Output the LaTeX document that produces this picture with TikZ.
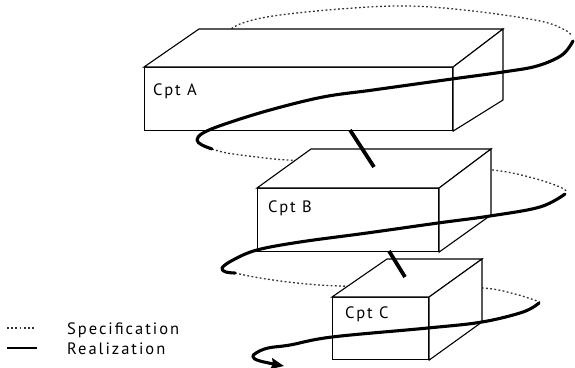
\documentclass[tikz,border=0pt]{standalone}
\usepackage{fontspec}
\setmainfont{PT Sans}
\newfontfamily\labfont[LetterSpace=12]{PT Sans}
\usetikzlibrary{arrows.meta}
\begin{document}
\begin{tikzpicture}[x=1pt,y=-1pt,
  face/.style={line width=1.1pt, line join=miter, fill=white, draw=black},
  spec/.style={line width=1.3pt, black!80, dash pattern=on 1.8pt off 2.4pt},
  real/.style={line width=3.1pt, line cap=round, line join=round},
  link/.style={line width=3.8pt},
  lab/.style={font=\labfont\fontsize{16.5}{19}\selectfont, inner sep=0pt, anchor=base west}]
\useasboundingbox (0,0) rectangle (575,367);

% specification (back halves, hidden by boxes)
\draw[spec] plot[smooth,tension=0.6] coordinates {(225,34) (240,24) (273,16) (340,9) (407,6) (473,11) (540,21) (565,30) (571,35)};
\draw[spec] plot[smooth,tension=0.6] coordinates {(212,149) (227,153) (257,157) (287,160) (350,163) (420,165) (493,170) (533,178) (560,187) (567,192)};
\draw[spec] plot[smooth,tension=0.6] coordinates {(235,273) (260,278) (297,283) (340,286) (420,287) (483,288) (515,294) (540,302)};

% boxes
\node[face, minimum width=308pt, minimum height=63pt, inner sep=0pt, anchor=north west] (boxA) at (144,67) {};
\draw[face] (boxA.north west) -- (199,29) -- (503,29) -- (boxA.north east) -- cycle;
\draw[face] (boxA.north east) -- (503,29) -- (503,100) -- (boxA.south east) -- cycle;
\node[lab] (labA) at (153,95) {Cpt A};

\node[face, minimum width=181pt, minimum height=63pt, inner sep=0pt, anchor=north west] (boxB) at (257,188) {};
\draw[face] (boxB.north west) -- (311,149) -- (491,149) -- (boxB.north east) -- cycle;
\draw[face] (boxB.north east) -- (491,149) -- (491,215) -- (boxB.south east) -- cycle;
\node[lab] (labB) at (268,212) {Cpt B};

\node[face, minimum width=96pt, minimum height=62pt, inner sep=0pt, anchor=north west] (boxC) at (332,297) {};
\draw[face] (boxC.north west) -- (387,259) -- (482,259) -- (boxC.north east) -- cycle;
\draw[face] (boxC.north east) -- (482,259) -- (482,322) -- (boxC.south east) -- cycle;
\node[lab] (labC) at (345,318) {Cpt C};

% links between components
\coordinate (ab1) at (350,130); \coordinate (ab2) at (374,167);
\coordinate (bc1) at (389,251); \coordinate (bc2) at (405,277);
\draw[link] (ab1) -- (ab2);
\draw[link] (bc1) -- (bc2);

% realization (front halves)
\draw[real] plot[smooth,tension=0.6] coordinates {(573,41) (562,55) (537,66) (503,72) (452,79) (373,90) (323,97) (270,110) (225,124) (203,133) (197,140) (202,145) (212,149)};
\draw[real] plot[smooth,tension=0.6] coordinates {(565,194) (540,207) (490,216) (438,223) (367,233) (300,242) (257,250) (233,260) (222,268) (226,272) (235,273)};
\draw[real, -{Stealth[length=13pt,width=11pt,inset=2pt]}] plot[smooth,tension=0.6] coordinates {(539,303) (523,312) (482,322) (428,328) (332,337) (290,345) (268,348) (256,353) (253,357) (260,361) (284,366)};

% legend
\coordinate (ls1) at (7,328); \coordinate (ls2) at (34,328);
\coordinate (lr1) at (7,348); \coordinate (lr2) at (37,348);
\draw[spec] (ls1) -- (ls2);
\draw[line width=2.8pt] (lr1) -- (lr2);
\node[lab] (legS) at (67,334) {Specification};
\node[lab] (legR) at (67,354) {Realization};
\end{tikzpicture}
\end{document}
